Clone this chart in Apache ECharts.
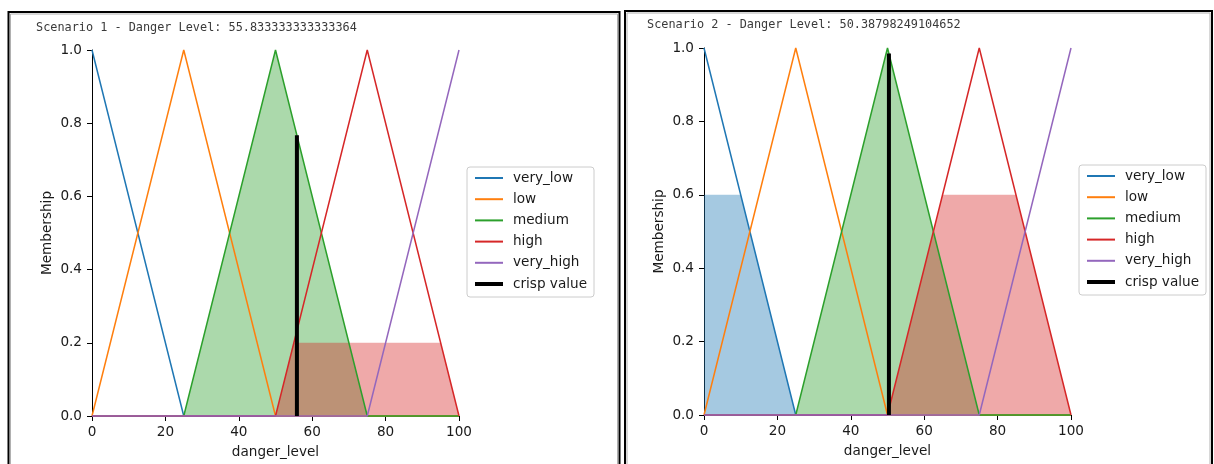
<!DOCTYPE html>
<html>
<head>
<meta charset="utf-8">
<script src="https://cdn.jsdelivr.net/npm/echarts@6/dist/echarts.min.js"></script>
<style>
html,body{margin:0;padding:0;background:#fff;}
#chart{width:1214px;height:464px;}
</style>
</head>
<body>
<div id="chart"></div>
<script>
// ---- data ----
const mfNames = ['very_low', 'low', 'medium', 'high', 'very_high'];
const mfColors = ['#1f77b4', '#ff7f0e', '#2ca02c', '#d62728', '#9467bd'];
// membership function breakpoints [x, membership]
const veryLow = [[0, 1], [25, 0], [100, 0]];
const low = [[0, 0], [25, 1], [50, 0], [100, 0]];
const medium = [[0, 0], [25, 0], [50, 1], [75, 0], [100, 0]];
const high = [[0, 0], [50, 0], [75, 1], [100, 0]];
const veryHigh = [[0, 0], [75, 0], [100, 1]];
const mfData = [veryLow, low, medium, high, veryHigh];

// Scenario 1 activated (clipped) regions
const s1Title = 'Scenario 1 - Danger Level: 55.833333333333364';
const s1MediumFill = [[25, 0], [50, 1], [75, 0]];
const s1HighFill = [[50, 0], [55, 0.2], [95, 0.2], [100, 0]];
const s1Crisp = [[55.8333, 0], [55.8333, 0.767]];

// Scenario 2 activated (clipped) regions
const s2Title = 'Scenario 2 - Danger Level: 50.38798249104652';
const s2VeryLowFill = [[0, 0.6], [10, 0.6], [25, 0]];
const s2MediumFill = [[25, 0], [50, 1], [75, 0]];
const s2HighFill = [[50, 0], [65, 0.6], [85, 0.6], [100, 0]];
const s2Crisp = [[50.388, 0], [50.388, 0.985]];

const xTicks = [0, 20, 40, 60, 80, 100];
const yTicks = [0, 0.2, 0.4, 0.6, 0.8, 1.0];

// ---- chart ----
const TXT = '#1a1a1a';
const FONT = 'DejaVu Sans';
const FS = 13.6;

function xAxisFor(gi) {
  return {
    type: 'value', gridIndex: gi, min: xTicks[0], max: xTicks[xTicks.length - 1],
    interval: xTicks[1] - xTicks[0],
    name: 'danger_level', nameLocation: 'middle', nameGap: 29,
    nameTextStyle: {fontFamily: FONT, fontSize: FS, color: TXT},
    axisLine: {show: true, onZero: false, lineStyle: {color: '#000', width: 1}},
    axisTick: {show: true, length: 5, lineStyle: {color: '#000', width: 1}},
    axisLabel: {fontFamily: FONT, fontSize: FS, color: TXT, margin: 9},
    splitLine: {show: false}
  };
}
function yAxisFor(gi) {
  return {
    type: 'value', gridIndex: gi, min: yTicks[0], max: yTicks[yTicks.length - 1],
    interval: 0.2,
    name: 'Membership', nameLocation: 'middle', nameGap: 38,
    nameTextStyle: {fontFamily: FONT, fontSize: FS, color: TXT},
    axisLine: {show: true, onZero: false, lineStyle: {color: '#000', width: 1}},
    axisTick: {show: true, length: 5, lineStyle: {color: '#000', width: 1}},
    axisLabel: {fontFamily: FONT, fontSize: FS, color: TXT, margin: 10,
      formatter: v => v.toFixed(1)},
    splitLine: {show: false}
  };
}
function fillSeries(gi, data, color, name) {
  return {
    type: 'line', name: name, xAxisIndex: gi, yAxisIndex: gi, data: data,
    symbol: 'none', clip: false, silent: true,
    lineStyle: {width: 0, opacity: 0},
    areaStyle: {color: color, opacity: 0.4, origin: 'start'},
    z: 1
  };
}
function mfSeries(gi) {
  return mfNames.map((n, i) => ({
    type: 'line', name: n, xAxisIndex: gi, yAxisIndex: gi, data: mfData[i],
    symbol: 'none', clip: false,
    lineStyle: {color: mfColors[i], width: 1.5},
    itemStyle: {color: mfColors[i]},
    z: 3
  }));
}
function crispSeries(gi, data) {
  return {
    type: 'line', name: 'crisp value', xAxisIndex: gi, yAxisIndex: gi, data: data,
    symbol: 'none', clip: false,
    lineStyle: {color: '#000', width: 4, cap: 'butt'},
    itemStyle: {color: '#000'},
    z: 4
  };
}
function legendFor(left, top) {
  return {
    orient: 'vertical', left: left, top: top,
    data: mfNames.map(n => ({name: n})).concat([{name: 'crisp value', lineStyle: {width: 4, color: '#000'}}]),
    itemWidth: 28, itemHeight: 14, itemGap: 7.2,
    padding: [4, 7, 6, 6],
    borderColor: '#cccccc', borderWidth: 1, borderRadius: 3,
    backgroundColor: 'rgba(255,255,255,0.8)',
    itemStyle: {opacity: 0},
    textStyle: {fontFamily: FONT, fontSize: FS, color: TXT, lineHeight: 14, padding: [0, 0, 0, 5]},
    selectedMode: false
  };
}

const option = {
  animation: false,
  backgroundColor: '#fff',
  title: [
    {text: s1Title, left: 36, top: 22, padding: 0,
     textStyle: {fontFamily: 'DejaVu Sans Mono', fontSize: 11.85, fontWeight: 'normal', color: '#3a3a3a'}},
    {text: s2Title, left: 647, top: 19, padding: 0,
     textStyle: {fontFamily: 'DejaVu Sans Mono', fontSize: 11.85, fontWeight: 'normal', color: '#3a3a3a'}}
  ],
  grid: [
    {left: 92, top: 50, width: 367, height: 367, containLabel: false},
    {left: 704, top: 48, width: 367, height: 367, containLabel: false}
  ],
  xAxis: [xAxisFor(0), xAxisFor(1)],
  yAxis: [yAxisFor(0), yAxisFor(1)],
  legend: [legendFor(467, 167), legendFor(1079, 165)],
  series: [
    fillSeries(0, s1MediumFill, mfColors[2], 'medium_fill_1'),
    fillSeries(0, s1HighFill, mfColors[3], 'high_fill_1'),
    ...mfSeries(0),
    crispSeries(0, s1Crisp),
    fillSeries(1, s2VeryLowFill, mfColors[0], 'very_low_fill_2'),
    fillSeries(1, s2MediumFill, mfColors[2], 'medium_fill_2'),
    fillSeries(1, s2HighFill, mfColors[3], 'high_fill_2'),
    ...mfSeries(1),
    crispSeries(1, s2Crisp)
  ],
  graphic: [
    {type: 'rect', shape: {x: 8.5, y: 12, width: 611, height: 500},
     style: {fill: 'none', stroke: '#000', lineWidth: 2}, silent: true, z: 10},
    {type: 'rect', shape: {x: 10.5, y: 14, width: 607, height: 500},
     style: {fill: 'none', stroke: '#b0b0b0', lineWidth: 1}, silent: true, z: 10},
    {type: 'rect', shape: {x: 625, y: 11, width: 587, height: 500},
     style: {fill: 'none', stroke: '#000', lineWidth: 2}, silent: true, z: 10},
    {type: 'rect', shape: {x: 627, y: 13, width: 583, height: 500},
     style: {fill: 'none', stroke: '#b0b0b0', lineWidth: 1}, silent: true, z: 10}
  ]
};

const chart = echarts.init(document.getElementById('chart'), null, {renderer: 'canvas'});
chart.setOption(option);
</script>
</body>
</html>
